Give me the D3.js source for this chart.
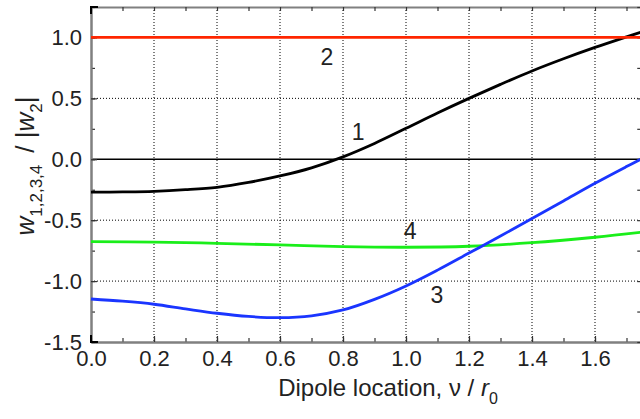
<!DOCTYPE html>
<html>
<head>
<meta charset="utf-8">
<script src="https://cdn.jsdelivr.net/npm/d3@7"></script>
<style>
  body { margin: 0; background: #fff; }
  svg { font-family: "Liberation Sans", Arial, sans-serif; }
</style>
</head>
<body>
<svg id="chart" width="640" height="419"></svg>
<script>
// curve data
const xTicks = [0, 0.2, 0.4, 0.6, 0.8, 1.0, 1.2, 1.4, 1.6]
const yTicks = [-1.5, -1.0, -0.5, 0.0, 0.5, 1.0]

const x1 = [0, 0.1, 0.2, 0.3, 0.4, 0.5, 0.6, 0.7, 0.8, 0.9, 1.0, 1.1, 1.2, 1.3, 1.4, 1.5, 1.6, 1.7, 1.745]
const w1 = [-0.27, -0.268, -0.263, -0.25, -0.23, -0.19, -0.137, -0.07, 0.02, 0.13, 0.254, 0.38, 0.5, 0.615, 0.725, 0.825, 0.918, 1.005, 1.043]

const x2 = [0, 1.745]
const w2 = [1.0, 1.0]

const x3 = [0, 0.1, 0.2, 0.3, 0.4, 0.5, 0.6, 0.7, 0.8, 0.9, 1.0, 1.1, 1.2, 1.3, 1.4, 1.5, 1.6, 1.7, 1.745]
const w3 = [-1.147, -1.165, -1.19, -1.228, -1.264, -1.29, -1.30, -1.285, -1.237, -1.15, -1.04, -0.91, -0.77, -0.63, -0.487, -0.342, -0.197, -0.06, 0.0]

const x4 = [0, 0.2, 0.4, 0.6, 0.8, 1.0, 1.2, 1.4, 1.6, 1.745]
const w4 = [-0.676, -0.68, -0.69, -0.703, -0.717, -0.722, -0.714, -0.685, -0.64, -0.6]

const labels = [
	{ text: "1", x: 0.848, y: 0.158 },
	{ text: "2", x: 0.749, y: 0.774 },
	{ text: "3", x: 1.098, y: -1.18 },
	{ text: "4", x: 1.013, y: -0.654 }
]

const svg = d3.select("#chart")

const mLeft = 91, mTop = 7, mBottom = 342
const x = d3.scaleLinear().domain([0, 1.75]).range([mLeft, mLeft + 315 * 1.75])
const y = d3.scaleLinear().domain([-1.5, 1.25]).range([mBottom, mTop])
const mRight = x(1.75)

// dotted grid
const grid = svg.append("g")
grid.selectAll(".gx")
	.data(xTicks.filter(d => d > 0))
	.enter().append("line")
	.attr("x1", d => x(d)).attr("x2", d => x(d))
	.attr("y1", mTop).attr("y2", mBottom)
	.attr("stroke", "#000").attr("stroke-width", 1)
	.attr("stroke-dasharray", "1,2")
grid.selectAll(".gy")
	.data(yTicks.filter(d => d > -1.5 && d != 0))
	.enter().append("line")
	.attr("x1", mLeft).attr("x2", mRight)
	.attr("y1", d => y(d)).attr("y2", d => y(d))
	.attr("stroke", "#000").attr("stroke-width", 1)
	.attr("stroke-dasharray", "1,2")

// zero line
svg.append("line")
	.attr("x1", mLeft).attr("x2", mRight)
	.attr("y1", y(0)).attr("y2", y(0))
	.attr("stroke", "#000").attr("stroke-width", 1.5)

// axes
const xMinor = d3.range(0, 1.75, 0.1)
const yMinor = d3.range(-1.5, 1.26, 0.25)

const bottomAxis = d3.axisBottom(x).tickValues(xTicks).tickFormat(d3.format(".1f"))
	.tickSizeInner(-6).tickSizeOuter(0).tickPadding(8)
const bottomMinor = d3.axisBottom(x).tickValues(xMinor).tickFormat("")
	.tickSizeInner(-4).tickSizeOuter(0)
const topMinor = d3.axisTop(x).tickValues(xMinor).tickFormat("")
	.tickSizeInner(-4).tickSizeOuter(0)
const leftAxis = d3.axisLeft(y).tickValues(yTicks).tickFormat(d3.format(".1f"))
	.tickSizeInner(-6).tickSizeOuter(0).tickPadding(9)
const leftMinor = d3.axisLeft(y).tickValues(yMinor).tickFormat("")
	.tickSizeInner(-4).tickSizeOuter(0)
const rightMinor = d3.axisRight(y).tickValues(yMinor).tickFormat("")
	.tickSizeInner(-5).tickSizeOuter(0)

const styleAxis = g => {
	g.select(".domain").attr("stroke", "#808080").attr("stroke-width", 2)
	g.selectAll(".tick line").attr("stroke", "#333").attr("stroke-width", 1.2)
	g.selectAll("text").attr("font-size", 22).attr("fill", "#222")
		.attr("font-family", "Liberation Sans, Arial, sans-serif")
}

svg.append("g").attr("transform", `translate(0,${mBottom})`).call(bottomMinor).call(styleAxis)
svg.append("g").attr("transform", `translate(0,${mBottom})`).call(bottomAxis).call(styleAxis)
svg.append("g").attr("transform", `translate(0,${mTop})`).call(topMinor).call(styleAxis)
svg.append("g").attr("transform", `translate(${mRight},0)`).call(rightMinor).call(styleAxis)
svg.append("g").attr("transform", `translate(${mLeft},0)`).call(leftMinor).call(styleAxis)
svg.append("g").attr("transform", `translate(${mLeft},0)`).call(leftAxis).call(styleAxis)
	.selectAll("text").attr("dy", "0.34em")
	.text(d => d < 0 ? "-" + Math.abs(d).toFixed(1) : d.toFixed(1))

// black corner brackets
svg.append("path")
	.attr("d", `M${mLeft},${mTop + 7}V${mTop}H${mLeft + 7}M${mLeft},${mBottom - 7}V${mBottom}H${mLeft + 7}`)
	.attr("fill", "none").attr("stroke", "#000").attr("stroke-width", 2)

// curves
const line = d3.line()
	.x(d => x(d[0]))
	.y(d => y(d[1]))
	.curve(d3.curveCatmullRom)

const series = [
	{ xs: x4, ys: w4, color: "#1aee1a" },
	{ xs: x3, ys: w3, color: "#1a35ff" },
	{ xs: x1, ys: w1, color: "#000000" },
	{ xs: x2, ys: w2, color: "#ff2600" }
]

svg.selectAll(".curve")
	.data(series)
	.enter().append("path")
	.attr("class", "curve")
	.attr("d", s => line(s.xs.map((v, i) => [v, s.ys[i]])))
	.attr("fill", "none")
	.attr("stroke", s => s.color)
	.attr("stroke-width", 2.8)

// curve numbers
svg.selectAll(".lab")
	.data(labels)
	.enter().append("text")
	.attr("x", d => x(d.x))
	.attr("y", d => y(d.y))
	.attr("text-anchor", "middle")
	.attr("font-size", 23)
	.attr("fill", "#222")
	.text(d => d.text)

// axis titles
const xt = svg.append("text")
	.attr("x", 388).attr("y", 396)
	.attr("text-anchor", "middle")
	.attr("font-size", 24)
	.attr("fill", "#222")
xt.append("tspan").text("Dipole location, \u03bd / ")
xt.append("tspan").attr("font-style", "italic").text("r")
xt.append("tspan").attr("font-size", 16).attr("dy", 8).text("0")

const yt = svg.append("text")
	.attr("transform", "translate(34,166) rotate(-90)")
	.attr("text-anchor", "middle")
	.attr("font-size", 26)
	.attr("fill", "#222")
yt.append("tspan").attr("font-style", "italic").text("w")
yt.append("tspan").attr("font-size", 17).attr("dy", 8).text("1,2,3,4")
yt.append("tspan").attr("dy", -8).attr("dx", 12).text("/ |")
yt.append("tspan").attr("font-style", "italic").text("w")
yt.append("tspan").attr("font-size", 17).attr("dy", 8).text("2")
yt.append("tspan").attr("dy", -8).text("|")
</script>
</body>
</html>
